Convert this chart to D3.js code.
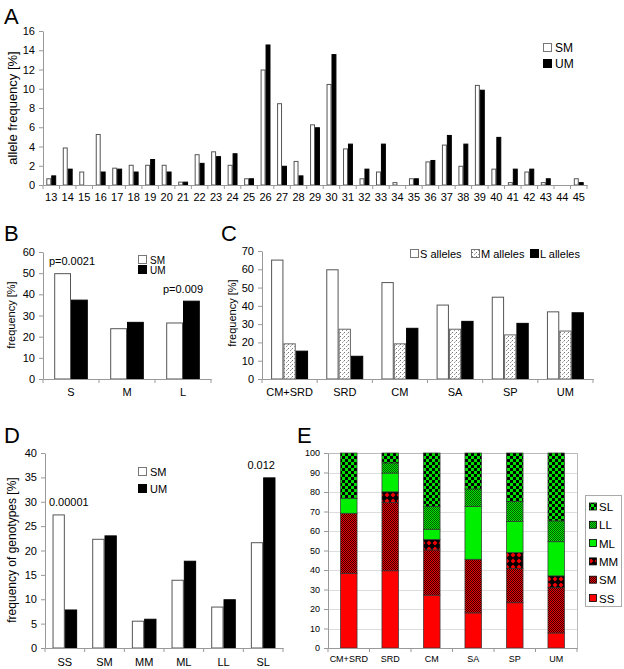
<!DOCTYPE html>
<html>
<head>
<meta charset="utf-8">
<script src="https://cdn.jsdelivr.net/npm/d3@7"></script>
<style>
  body { margin: 0; background: #fff; }
  svg { font-family: "Liberation Sans", Arial, sans-serif; }
</style>
</head>
<body>
<svg id="fig" width="624" height="669"></svg>
<script>
// ---- data ----
var alleles = d3.range(13, 46).map(String);
var alleleSM = [0.7, 3.9, 1.4, 5.3, 1.8, 2.1, 2.1, 2.1, 0.35, 3.2, 3.5, 2.1, 0.7, 12.0, 8.5, 2.5, 6.3,
                10.5, 3.8, 0.7, 1.4, 0.3, 0.7, 2.45, 4.2, 2.0, 10.4, 1.7, 0.3, 1.4, 0.3, 0, 0.7];
var alleleUM = [1.0, 1.7, 0, 1.4, 1.7, 1.4, 2.7, 1.4, 0.35, 2.3, 3.0, 3.3, 0.7, 14.6, 2.0, 1.0, 6.0,
                13.6, 4.3, 1.7, 4.3, 0, 0.7, 2.6, 5.2, 4.3, 9.9, 5.0, 1.7, 1.7, 0.7, 0, 0.3];

var sizeCats = ["S", "M", "L"];
var sizeSM = [50.0, 24.0, 26.7];
var sizeUM = [37.5, 27.0, 37.0];

var groups = ["CM+SRD", "SRD", "CM", "SA", "SP", "UM"];
var groupS = [65.3, 60.0, 53.0, 40.7, 45.0, 37.0];
var groupM = [19.5, 27.5, 19.5, 27.5, 24.4, 26.5];
var groupL = [15.5, 12.7, 28.0, 31.8, 30.7, 36.5];

var genotypes = ["SS", "SM", "MM", "ML", "LL", "SL"];
var genoSM = [27.4, 22.4, 5.6, 14.0, 8.5, 21.7];
var genoUM = [7.9, 23.1, 6.0, 17.9, 10.0, 35.0];

// stacked genotype shares per group (E), order SS, SM, MM, ML, LL, SL
var stackSS = [38.3, 39.6, 27.1, 18.0, 23.2, 7.7];
var stackSM = [30.8, 35.0, 23.2, 27.5, 17.6, 23.2];
var stackMM = [0, 5.5, 5.4, 0, 8.1, 6.1];
var stackML = [7.7, 9.6, 5.2, 27.1, 15.9, 17.5];
var stackLL = [0, 5.2, 11.7, 9.0, 10.3, 10.7];
var stackSL = [23.2, 5.1, 27.4, 18.4, 24.9, 34.8];

var svg = d3.select("#fig");
var axisColor = "#999";

// ---- patterns ----
var defs = svg.append("defs");
function pat(id, w, h, draw) {
  var p = defs.append("pattern").attr("id", id).attr("patternUnits", "userSpaceOnUse")
    .attr("width", w).attr("height", h);
  draw(p);
}
pat("stip", 4, 4, function(p) {
  p.append("rect").attr("width", 4).attr("height", 4).attr("fill", "#fff");
  p.append("rect").attr("x", 0).attr("y", 0).attr("width", 1).attr("height", 1).attr("fill", "#777");
  p.append("rect").attr("x", 2).attr("y", 2).attr("width", 1).attr("height", 1).attr("fill", "#999");
  p.append("rect").attr("x", 3).attr("y", 1).attr("width", 1).attr("height", 1).attr("fill", "#bbb");
});
pat("patSL", 6, 6, function(p) {
  p.append("rect").attr("width", 6).attr("height", 6).attr("fill", "#00e000");
  p.append("rect").attr("width", 3).attr("height", 3).attr("fill", "#000");
  p.append("rect").attr("x", 3).attr("y", 3).attr("width", 3).attr("height", 3).attr("fill", "#000");
});
pat("patLL", 2, 2, function(p) {
  p.append("rect").attr("width", 2).attr("height", 2).attr("fill", "#00f000");
  p.append("rect").attr("width", 1).attr("height", 1).attr("fill", "#005000");
  p.append("rect").attr("x", 1).attr("y", 1).attr("width", 1).attr("height", 1).attr("fill", "#005000");
});
pat("patSM", 2, 2, function(p) {
  p.append("rect").attr("width", 2).attr("height", 2).attr("fill", "#f00000");
  p.append("rect").attr("width", 1).attr("height", 1).attr("fill", "#3a0000");
  p.append("rect").attr("x", 1).attr("y", 1).attr("width", 1).attr("height", 1).attr("fill", "#3a0000");
});
pat("patMM", 6, 6, function(p) {
  p.append("rect").attr("width", 6).attr("height", 6).attr("fill", "#000");
  p.append("path").attr("d", "M3,0.5L5.5,3L3,5.5L0.5,3Z").attr("fill", "#f00000");
});

// ---- helpers ----
function panelLabel(t, x, y) {
  svg.append("text").attr("x", x).attr("y", y).attr("font-size", 22).text(t);
}

function yAxis(g, y, ticks, x0, fs) {
  var ax = g.append("g").attr("transform", "translate(" + x0 + ",0)")
    .call(d3.axisLeft(y).tickValues(ticks).tickSize(4).tickPadding(4).tickSizeOuter(0));
  ax.select(".domain").attr("stroke", axisColor);
  ax.selectAll(".tick line").attr("stroke", axisColor);
  ax.selectAll("text").attr("font-size", fs || 11).attr("fill", "#000");
  return ax;
}

function xAxis(g, x, y0, fs, pad) {
  var ax = g.append("g").attr("transform", "translate(0," + y0 + ")")
    .call(d3.axisBottom(x).tickSize(0).tickPadding(pad || 9));
  ax.select(".domain").attr("stroke", axisColor);
  ax.selectAll("text").attr("font-size", fs || 11).attr("fill", "#000");
  // category boundary ticks
  var dom = x.domain(), step = x.step(), r = x.range();
  g.selectAll(null).data(d3.range(dom.length + 1)).enter().append("line")
    .attr("x1", function(i) { return r[0] + i * step; })
    .attr("x2", function(i) { return r[0] + i * step; })
    .attr("y1", y0).attr("y2", y0 + 4).attr("stroke", axisColor);
}

function yTitle(t, x, y, fs) {
  svg.append("text").attr("transform", "translate(" + x + "," + y + ") rotate(-90)")
    .attr("text-anchor", "middle").attr("font-size", fs || 12).text(t);
}

function groupedBars(g, cats, series, fills, strokes, x, y) {
  var x1 = d3.scaleBand().domain(d3.range(series.length)).range([0, x.bandwidth()]).padding(0);
  series.forEach(function(vals, si) {
    g.selectAll(null).data(vals).enter().append("rect")
      .attr("x", function(d, i) { return x(cats[i]) + x1(si) + 0.5; })
      .attr("y", function(d) { return y(d) + 0.5; })
      .attr("width", x1.bandwidth() - 1)
      .attr("height", function(d) { return Math.max(0, y(0) - y(d) - 0.5); })
      .attr("fill", fills[si]).attr("stroke", strokes[si]).attr("stroke-width", 1)
      .attr("display", function(d) { return d > 0 ? null : "none"; });
  });
}

function legendBox(g, items, x, y, dy, fs) {
  items.forEach(function(it, i) {
    g.append("rect").attr("x", x + 0.5).attr("y", y + i * dy - 4.5).attr("width", 8).attr("height", 8)
      .attr("fill", it.fill).attr("stroke", it.stroke);
    g.append("text").attr("x", x + 12).attr("y", y + i * dy + 4).attr("font-size", fs || 12).text(it.label);
  });
}

// ---- Panel A ----
(function() {
  var g = svg.append("g");
  var x = d3.scaleBand().domain(alleles).range([43, 587]).paddingInner(0.4).paddingOuter(0.2);
  var y = d3.scaleLinear().domain([0, 16]).range([185, 31]);
  groupedBars(g, alleles, [alleleSM, alleleUM], ["#fff", "#000"], ["#555", "#000"], x, y);
  yAxis(g, y, d3.range(0, 17, 2), 43, 11);
  var xb = d3.scaleBand().domain(alleles).range([43, 587]);
  xAxis(g, xb, 185, 11, 8);
  yTitle("allele frequency [%]", 17, 108, 13);
  legendBox(g, [{label: "SM", fill: "#fff", stroke: "#777"}, {label: "UM", fill: "#000", stroke: "#000"}], 543, 48, 16, 12);
  panelLabel("A", 4, 24);
})();

// ---- Panel B ----
(function() {
  var g = svg.append("g");
  var xb = d3.scaleBand().domain(sizeCats).range([43, 211]);
  var x = d3.scaleBand().domain(sizeCats).range([43, 211]).paddingInner(0.4).paddingOuter(0.2);
  var y = d3.scaleLinear().domain([0, 60]).range([379, 252]);
  groupedBars(g, sizeCats, [sizeSM, sizeUM], ["#fff", "#000"], ["#555", "#000"], x, y);
  yAxis(g, y, d3.range(0, 61, 10), 43, 11);
  xAxis(g, xb, 379, 11, 9);
  yTitle("frequency [%]", 15, 315, 11);
  g.append("text").attr("x", xb("S") + xb.bandwidth() / 2 + 1).attr("y", y(sizeSM[0]) - 8)
    .attr("text-anchor", "middle").attr("font-size", 11).text("p=0.0021");
  g.append("text").attr("x", xb("L") + xb.bandwidth() / 2).attr("y", y(sizeUM[2]) - 8)
    .attr("text-anchor", "middle").attr("font-size", 11).text("p=0.009");
  legendBox(g, [{label: "SM", fill: "#fff", stroke: "#777"}, {label: "UM", fill: "#000", stroke: "#000"}], 138, 260, 10, 10);
  panelLabel("B", 4, 241);
})();

// ---- Panel C ----
(function() {
  var g = svg.append("g");
  var xb = d3.scaleBand().domain(groups).range([262, 593]);
  var x = d3.scaleBand().domain(groups).range([262, 593]).paddingInner(0.33).paddingOuter(0.165);
  var y = d3.scaleLinear().domain([0, 70]).range([379, 251]);
  groupedBars(g, groups, [groupS, groupM, groupL], ["#fff", "url(#stip)", "#000"], ["#555", "#666", "#000"], x, y);
  yAxis(g, y, d3.range(0, 71, 10), 262, 11);
  xAxis(g, xb, 379, 11, 9);
  yTitle("frequency [%]", 236, 313, 11);
  var leg = [{label: "S alleles", fill: "#fff", stroke: "#777", x: 410},
             {label: "M alleles", fill: "url(#stip)", stroke: "#777", x: 471},
             {label: "L alleles", fill: "#000", stroke: "#000", x: 530}];
  leg.forEach(function(it) {
    g.append("rect").attr("x", it.x + 0.5).attr("y", 249.5).attr("width", 8).attr("height", 8)
      .attr("fill", it.fill).attr("stroke", it.stroke);
    g.append("text").attr("x", it.x + 10).attr("y", 257.5).attr("font-size", 11).text(it.label);
  });
  panelLabel("C", 221, 241);
})();

// ---- Panel D ----
(function() {
  var g = svg.append("g");
  var xb = d3.scaleBand().domain(genotypes).range([45, 283]);
  var x = d3.scaleBand().domain(genotypes).range([45, 283]).paddingInner(0.38).paddingOuter(0.19);
  var y = d3.scaleLinear().domain([0, 40]).range([648, 453]);
  groupedBars(g, genotypes, [genoSM, genoUM], ["#fff", "#000"], ["#555", "#000"], x, y);
  yAxis(g, y, d3.range(0, 41, 5), 45, 11);
  xAxis(g, xb, 648, 11, 10);
  yTitle("frequency of genotypes [%]", 16, 550, 12);
  g.append("text").attr("x", xb("SS") + xb.bandwidth() / 2 + 4).attr("y", y(genoSM[0]) - 8)
    .attr("text-anchor", "middle").attr("font-size", 11).text("0.00001");
  g.append("text").attr("x", xb("SL") + xb.bandwidth() / 2 - 2).attr("y", y(genoUM[5]) - 8)
    .attr("text-anchor", "middle").attr("font-size", 11).text("0.012");
  legendBox(g, [{label: "SM", fill: "#fff", stroke: "#777"}, {label: "UM", fill: "#000", stroke: "#000"}], 138, 472, 17, 11);
  panelLabel("D", 4, 443);
})();

// ---- Panel E ----
(function() {
  var g = svg.append("g");
  var x0 = 328, x1 = 577, y0 = 648, y1 = 453;
  var xb = d3.scaleBand().domain(groups).range([x0, x1]);
  var x = d3.scaleBand().domain(groups).range([x0, x1]).paddingInner(0.6).paddingOuter(0.3);
  var y = d3.scaleLinear().domain([0, 100]).range([y0, y1]);
  // grid
  g.selectAll(null).data(d3.range(10, 101, 10)).enter().append("line")
    .attr("x1", x0).attr("x2", x1).attr("y1", function(d) { return Math.round(y(d)) + 0.5; })
    .attr("y2", function(d) { return Math.round(y(d)) + 0.5; }).attr("stroke", "#ddd");
  g.append("rect").attr("x", x0 + 0.5).attr("y", y1 + 0.5).attr("width", x1 - x0).attr("height", y0 - y1)
    .attr("fill", "none").attr("stroke", "#bbb");
  var keys = ["SS", "SM", "MM", "ML", "LL", "SL"];
  var fills = {SS: "#ff0000", SM: "url(#patSM)", MM: "url(#patMM)", ML: "#00ee00", LL: "url(#patLL)", SL: "url(#patSL)"};
  var cols = [stackSS, stackSM, stackMM, stackML, stackLL, stackSL];
  var rows = groups.map(function(gn, i) {
    var r = {group: gn};
    keys.forEach(function(k, j) { r[k] = cols[j][i]; });
    return r;
  });
  var stacked = d3.stack().keys(keys)(rows);
  stacked.forEach(function(layer) {
    g.selectAll(null).data(layer.filter(function(d) { return d[1] - d[0] > 0; })).enter().append("rect")
      .attr("x", function(d) { return x(d.data.group); })
      .attr("y", function(d) { return y(d[1]); })
      .attr("width", x.bandwidth())
      .attr("height", function(d) { return y(d[0]) - y(d[1]); })
      .attr("fill", fills[layer.key]).attr("stroke", "#333").attr("stroke-width", 0.7);
  });
  yAxis(g, y, d3.range(0, 101, 10), x0, 9);
  xAxis(g, xb, y0, 9, 8);
  // legend
  g.append("rect").attr("x", 585.5).attr("y", 495.5).attr("width", 36).attr("height", 111)
    .attr("fill", "#fff").attr("stroke", "#aaa");
  keys.slice().reverse().forEach(function(k, i) {
    var yy = 506.5 + i * 18.3;
    g.append("rect").attr("x", 589.5).attr("y", yy - 3.5).attr("width", 7).attr("height", 7)
      .attr("fill", fills[k]).attr("stroke", "#000").attr("stroke-width", 0.8);
    g.append("text").attr("x", 599).attr("y", yy + 4.5).attr("font-size", 11.5).text(k);
  });
  panelLabel("E", 297, 443);
})();
</script>
</body>
</html>
